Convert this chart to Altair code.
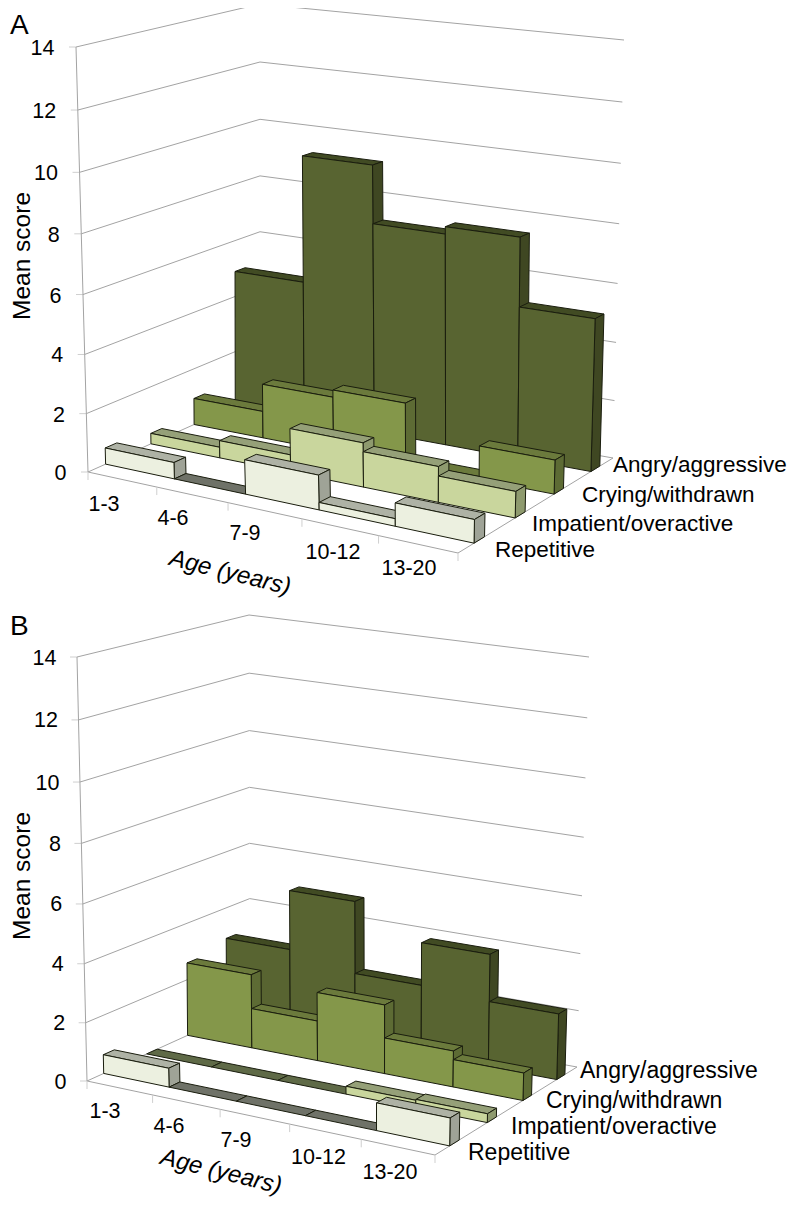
import altair as alt
import numpy as np
import pandas as pd

ages = ["1-3", "4-6", "7-9", "10-12", "13-20"]
series = ["Repetitive", "Impatient/overactive", "Crying/withdrawn", "Angry/aggressive"]
ticks = [0, 2, 4, 6, 8, 10, 12, 14]

# mean scores
a_repetitive = [0.56, 0, 1.16, 0.25, 0.77]
a_impatient = [0.37, 0.6, 1.5, 1.2, 0.88]
a_crying = [0.94, 1.9, 2.15, 0.1, 1.15]
a_angry = [4.9, 9.3, 7.3, 7.55, 5.2]

b_repetitive = [0.65, 0, 0, 0, 0.93]
b_impatient = [0, 0, 0, 0.27, 0.3]
b_crying = [2.6, 1.4, 2.4, 1.25, 0.95]
b_angry = [2.9, 5.0, 2.45, 3.95, 2.3]

# colours per series: front, top, side, top of a zero bar
FRONT = ["#ecf0e0", "#c9d69d", "#84974a", "#586431"]
TOP = ["#aeb2a5", "#95a078", "#6b7a3c", "#414b23"]
SIDE = ["#9fa397", "#8e9a6e", "#5d6b34", "#3f4722"]
ZERO = ["#6f7268", "#5f6a47", "#5f6a47", "#414b23"]
EDGE = "#1a1d0e"
GRID = "#a3a3a3"
TICK = "#cfcfcf"

# projected corners of each panel's box: floor and the plane at score 14
# order: front-left, front-right, back-right, back-left
PANEL_A = dict(
    floor=[(88, 472), (458, 553), (613, 458), (260, 395)],
    top=[(76, 47), (464, 101), (624, 40), (260, 4)],
    warp=1.0,
)
PANEL_B = dict(
    floor=[(87, 1081), (435, 1155), (577, 1067), (250, 1007)],
    top=[(77, 657), (441, 713), (589, 657), (249, 615)],
    warp=0.5,
)


def homography(pts):
    src = [(0, 0), (1, 0), (1, 1), (0, 1)]
    A, b = [], []
    for (u, v), (x, y) in zip(src, pts):
        A.append([u, v, 1, 0, 0, 0, -u * x, -v * x])
        b.append(x)
        A.append([0, 0, 0, u, v, 1, -u * y, -v * y])
        b.append(y)
    h = np.linalg.solve(np.array(A, float), np.array(b, float))
    H = np.append(h, 1).reshape(3, 3)

    def f(u, v):
        p = H @ np.array([u, v, 1.0])
        return p[:2] / p[2]

    return f


def projector(panel):
    lo, hi = homography(panel["floor"]), homography(panel["top"])
    warp = panel["warp"]

    def p(u, v, z):
        t = z / 14
        t = t - 0.045 * t * (1 - t)
        w = u + warp * (0.04 + 0.05 * v) * u * (1 - u)
        q = lo(w, v) + t * (hi(w, v) - lo(w, v))
        return float(q[0]), float(q[1])

    return p


polys, lines = [], []


def add_poly(pts, fill):
    pid = len(polys) and polys[-1]["pid"] + 1
    for k, (x, y) in enumerate(pts):
        polys.append(dict(pid=pid, k=k, x=x, y=y, fill=fill))


def add_line(pts, color):
    lid = len(lines) and lines[-1]["lid"] + 1
    for k, (x, y) in enumerate(pts):
        lines.append(dict(lid=lid, k=k, x=x, y=y, stroke=color))


def build(panel, rows):
    p = projector(panel)
    # walls and grid
    for z in ticks:
        if z > 0:
            add_line([p(0, 0, z), p(0, 1, z), p(1, 1, z)], GRID)
        else:
            add_line([p(0, 1, 0), p(1, 1, 0)], GRID)
        x, y = p(0, 0, z)
        add_line([(x - 7, y), (x, y)], TICK)
    add_line([p(0, 0, 0), p(0, 0, 14)], GRID)
    add_line([p(0, 1, 0), p(0, 0, 0), p(1, 0, 0), p(1, 1, 0)], GRID)
    for i in range(6):
        x, y = p(i / 5, 0, 0)
        add_line([(x, y), (x, y + 8)], TICK)
    # bars, back row first, left to right
    for s in range(3, -1, -1):
        v0, v1 = (s + 0.375) / 4, (s + 0.625) / 4
        for i, val in enumerate(rows[s]):
            u0, u1 = i / 5, (i + 1) / 5
            add_poly([p(u0, v0, val), p(u1, v0, val), p(u1, v1, val), p(u0, v1, val)],
                     ZERO[s] if val == 0 else TOP[s])
            if val > 0:
                add_poly([p(u1, v0, 0), p(u1, v1, 0), p(u1, v1, val), p(u1, v0, val)], SIDE[s])
                add_poly([p(u0, v0, 0), p(u1, v0, 0), p(u1, v0, val), p(u0, v0, val)], FRONT[s])


build(PANEL_A, [a_repetitive, a_impatient, a_crying, a_angry])
build(PANEL_B, [b_repetitive, b_impatient, b_crying, b_angry])

xs = alt.Scale(domain=[8, 787], range=[0, 779])
ys = alt.Scale(domain=[8, 1197], range=[0, 1189])
X = alt.X("x:Q", scale=xs, axis=None)
Y = alt.Y("y:Q", scale=ys, axis=None)

line_layer = alt.Chart(pd.DataFrame(lines)).mark_line(strokeWidth=1, strokeCap="butt").encode(
    x=X, y=Y, detail="lid:N", order="k:Q", stroke=alt.Stroke("stroke:N", scale=None)
)
poly_layer = alt.Chart(pd.DataFrame(polys)).mark_line(
    interpolate="linear-closed", stroke=EDGE, strokeWidth=1, strokeJoin="round"
).encode(
    x=X, y=Y, detail="pid:N", order="k:Q", fill=alt.Fill("fill:N", scale=None)
)


def text_layer(rows, align, size, angle=0, style="normal"):
    return alt.Chart(pd.DataFrame(rows)).mark_text(
        align=align, baseline="middle", font="Liberation Sans", fontSize=size,
        angle=angle, fontStyle=style, color="#000000"
    ).encode(x=X, y=Y, text="t:N")


pa, pb = projector(PANEL_A), projector(PANEL_B)
tick_rows = []
for z in ticks:
    x, y = pa(0, 0, z)
    tick_rows.append(dict(t=str(z), x=x - 21.5, y=y + 2))
    x, y = pb(0, 0, z)
    tick_rows.append(dict(t=str(z), x=x - 20.5, y=y + 1.5))

cat_rows = [dict(t=t, x=x, y=y) for t, x, y in zip(
    ages * 2,
    [104, 173, 245, 333, 409, 105, 169, 236, 318.5, 390],
    [505, 519, 534, 553, 569, 1112, 1127, 1141, 1158, 1173],
)]
series_rows_a = [dict(t=t, x=x, y=y) for t, x, y in zip(
    series, [495, 532, 582, 613], [550, 524, 495, 465]
)]
series_rows_b = [dict(t=t, x=x, y=y) for t, x, y in zip(
    series, [468, 511, 546, 580], [1153, 1127, 1101, 1071]
)]

chart = alt.layer(
    line_layer,
    poly_layer,
    text_layer(tick_rows, "right", 21.5),
    text_layer(cat_rows, "center", 21.5),
    text_layer(series_rows_a, "left", 22.5),
    text_layer(series_rows_b, "left", 23),
    text_layer([dict(t="A", x=10, y=26), dict(t="B", x=10, y=627)], "left", 28),
    text_layer([dict(t="Mean score", x=23, y=256), dict(t="Mean score", x=23, y=876)], "center", 24.5, angle=270),
    text_layer([dict(t="Age (years)", x=230, y=573), dict(t="Age (years)", x=221, y=1172)], "center", 24, angle=14, style="italic"),
).properties(
    width=779, height=1189, padding=0, autosize=alt.AutoSizeParams(type="none")
).configure_view(stroke=None)

chart.save("out.html", embed_options={"renderer": "svg", "actions": False})
